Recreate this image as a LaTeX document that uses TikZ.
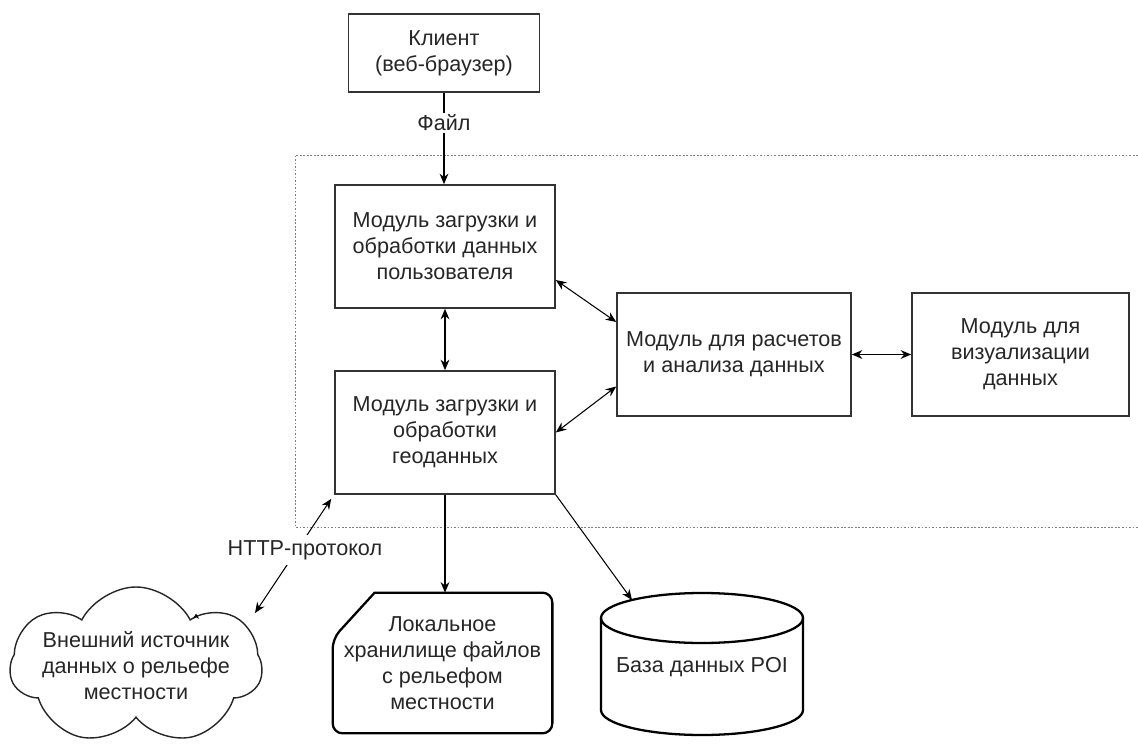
\documentclass[tikz,border=0pt]{standalone}
\usepackage{fontspec}
\setmainfont{Liberation Sans}
\usepackage{tikz}
\usetikzlibrary{positioning}
\usetikzlibrary{shapes,arrows.meta}

\begin{document}
\begin{tikzpicture}[font=\fontsize{12.3}{14.8}\selectfont,text=black!85,
box/.style={draw=black!80,line width=0.9pt,minimum height=2.46cm,align=center},
arr/.style={-{Stealth[length=6pt,width=5pt]},line width=0.8pt},
dbl/.style={{Stealth[length=6pt,width=5pt]}-{Stealth[length=6pt,width=5pt]},line width=0.8pt},
thinln/.style={line width=0.6pt}]
\useasboundingbox (0,0) rectangle (22.76,14.98);
\draw[black!50,dash pattern=on 1pt off 1pt] (22.76,11.88) -- (5.90,11.88) -- (5.90,4.44) -- (22.76,4.44);
\node[box,minimum width=3.82cm,minimum height=1.56cm] (client) at (8.88,13.92) {Клиент\\(веб-браузер)};
\node[box,minimum width=4.40cm] (upload) at (8.90,10.05) {Модуль загрузки и\\обработки данных\\пользователя};
\node[box,minimum width=4.40cm] (geo) at (8.90,6.33) {Модуль загрузки и\\обработки\\геоданных};
\node[box,minimum width=4.68cm] (calc) at (14.68,7.89) {Модуль для расчетов\\и анализа данных};
\node[box,minimum width=4.34cm] (vis) at (20.41,7.89) {Модуль для\\визуализации\\данных};
\node[cloud,draw=black!85,line width=0.8pt,cloud puffs=7,cloud puff arc=125,aspect=1.6,inner sep=0pt,minimum width=5.04cm,minimum height=3.16cm] (ext) at (2.72,1.66) {};
\node[align=center] (exttext) at (2.72,1.66) {Внешний источник\\данных о рельефе\\местности};
\node[minimum width=4.38cm,minimum height=2.80cm,align=center] (store) at (8.85,1.72) {Локальное\\хранилище файлов\\с рельефом\\местности};
\draw[line width=1.3pt] ([yshift=-0.92cm]store.north west) -- ([xshift=0.84cm]store.north west) [rounded corners=0.2cm] -- (store.north east) -- (store.south east) -- (store.south west) -- cycle;
\node[align=center] (db) at (14.04,1.64) {База данных POI};
\draw[line width=1.3pt] (12.02,2.62) -- (12.02,0.78) arc (180:360:2.02 and 0.5) -- (16.06,2.62);
\draw[line width=1.3pt] (14.04,2.62) ellipse (2.02 and 0.5);
\coordinate (dbtop) at (12.64,2.98);
\coordinate (httpend) at (5.10,2.72);
\draw[arr] (client.south) -- node[pos=0.33,fill=white,inner sep=1pt] {Файл} (client.south |- upload.north);
\draw[dbl] (upload.south) -- (upload.south |- geo.north);
\draw[dbl,thinln] ([yshift=-0.67cm]upload.east) -- ([yshift=0.65cm]calc.west);
\draw[dbl,thinln] (geo.east) -- ([yshift=-0.64cm]calc.west);
\draw[dbl] (calc.east) -- (vis.west);
\draw[arr] (geo.south) -- (geo.south |- store.north);
\draw[arr,thinln] (geo.south east) -- (dbtop);
\draw[dbl,thinln] (httpend) -- node[pos=0.55,xshift=0.16cm,fill=white,inner sep=3pt] {HTTP-протокол} ([shift={(-0.06,-0.08)}]geo.south west);
\draw[-{Stealth[length=3pt,width=3.5pt]},line width=0.4pt] (ext.40) -- ++(0,0.04);
\end{tikzpicture}
\end{document}
